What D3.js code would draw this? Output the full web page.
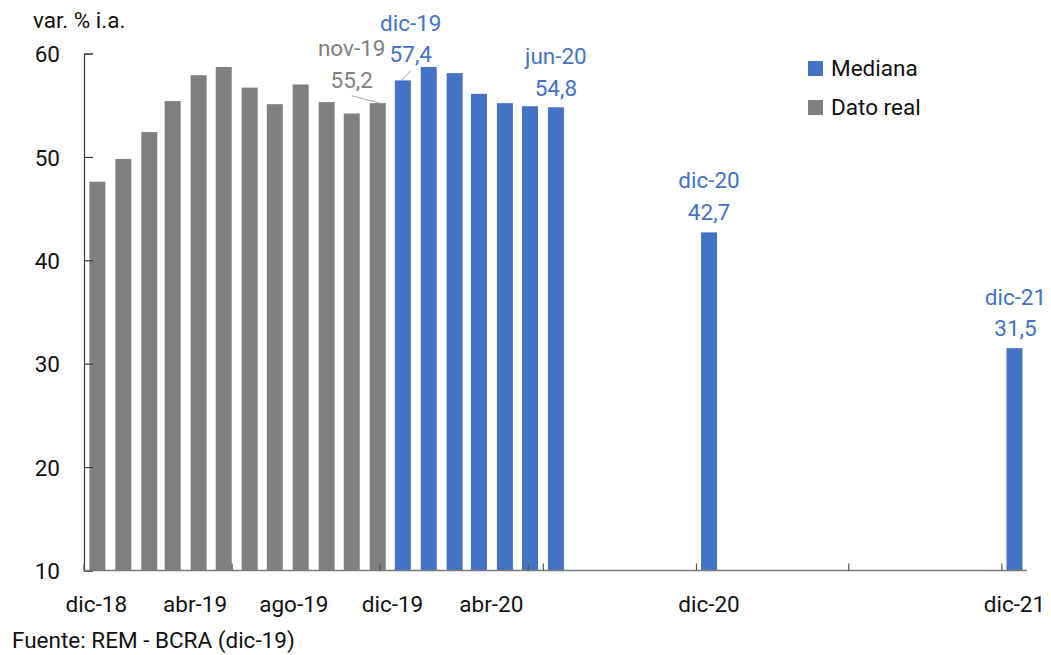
<!DOCTYPE html>
<html lang="es">
<head>
<meta charset="utf-8">
<script src="https://cdn.jsdelivr.net/npm/d3@7"></script>
<style>
  html, body { margin: 0; padding: 0; background: #fff; }
  svg { display: block; font-family: Roboto, "Noto Sans", sans-serif; }
</style>
</head>
<body>
<svg id="chart" width="1051" height="655"></svg>
<script>
// Inflación observada (dato real) y mediana de expectativas del REM, var. % i.a.
const realMonths  = ["2018-12","2019-01","2019-02","2019-03","2019-04","2019-05",
                     "2019-06","2019-07","2019-08","2019-09","2019-10","2019-11"];
const realValues  = [47.6, 49.8, 52.4, 55.4, 57.9, 58.7, 56.7, 55.1, 57.0, 55.3, 54.2, 55.2];

const medianMonths = ["2019-12","2020-01","2020-02","2020-03","2020-04","2020-05",
                      "2020-06","2020-12","2021-12"];
const medianValues = [57.4, 58.7, 58.1, 56.1, 55.2, 54.9, 54.8, 42.7, 31.5];

// Eje de categorías mensuales (dic-18 a jun-20)
const categoryLabels = ["dic-18","ene-19","feb-19","mar-19","abr-19","may-19","jun-19",
                        "jul-19","ago-19","sep-19","oct-19","nov-19","dic-19","ene-20",
                        "feb-20","mar-20","abr-20","may-20","jun-20"];
const shownCategoryLabels = ["dic-18","abr-19","ago-19","dic-19","abr-20"];
// Eje de fechas para el horizonte de expectativas
const dateLabels = [{ month: "2020-12", text: "dic-20" }, { month: "2021-12", text: "dic-21" }];
const dateTickMonths = ["2020-06","2020-12","2021-06","2021-12"];

const yTicks = [10, 20, 30, 40, 50, 60];

const seriesNames = ["Mediana", "Dato real"];
const colors = { "Mediana": "#4472C4", "Dato real": "#808080" };

// Etiquetas de valor sobre barras destacadas
const callouts = [
  { month: "2019-11", name: "nov-19", value: 55.2, series: "Dato real", dx: -26, leader: true, nameDy: -47.5, valueDy: -15.5 },
  { month: "2019-12", name: "dic-19", value: 57.4, series: "Mediana",   dx: 8,   leader: true, nameDy: -49, valueDy: -18 },
  { month: "2020-06", name: "jun-20", value: 54.8, series: "Mediana",   dx: 0,   leader: false, nameDy: -43, valueDy: -11 },
  { month: "2020-12", name: "dic-20", value: 42.7, series: "Mediana",   dx: 0,   leader: false, nameDy: -44, valueDy: -12 },
  { month: "2021-12", name: "dic-21", value: 31.5, series: "Mediana",   dx: 1,   leader: false, nameDy: -43, valueDy: -12 }
];

const parseMonth = d3.timeParse("%Y-%m");
const svg = d3.select("#chart");

const plotLeft = 84, plotRight = 1027, plotTop = 53.5, plotBottom = 570.5;
const fontSize = 22.5;

// Escala temporal de las barras: medio mes antes de dic-18 hasta medio mes después de dic-21
const x = d3.scaleTime()
  .domain([d3.timeDay.offset(parseMonth("2018-12"), -16), d3.timeDay.offset(parseMonth("2021-12"), 15)])
  .range([plotLeft, plotRight]);

const xCat = d3.scaleBand().domain(categoryLabels).range([plotLeft, 553]);

const y = d3.scaleLinear().domain([10, 60]).range([plotBottom, plotTop]);

const barW = 16;

// Barras
const realData = realMonths.map((m, i) => ({ date: parseMonth(m), value: realValues[i] }));
const medianData = medianMonths.map((m, i) => ({ date: parseMonth(m), value: medianValues[i] }));

svg.append("g").selectAll("rect").data(realData).join("rect")
  .attr("x", d => x(d.date) - barW / 2)
  .attr("y", d => y(d.value))
  .attr("width", barW)
  .attr("height", d => y(10) - y(d.value))
  .attr("fill", colors["Dato real"]);

svg.append("g").selectAll("rect").data(medianData).join("rect")
  .attr("x", d => x(d.date) - barW / 2)
  .attr("y", d => y(d.value))
  .attr("width", barW)
  .attr("height", d => y(10) - y(d.value))
  .attr("fill", colors["Mediana"]);

// Eje Y
const yAxis = svg.append("g").attr("transform", `translate(${plotLeft},0)`)
  .call(d3.axisLeft(y).tickValues(yTicks).tickSize(-9).tickPadding(24).tickFormat(d3.format("d")));
yAxis.select(".domain").attr("stroke", "#3a3a3a").attr("stroke-width", 1.2);
yAxis.selectAll(".tick line").attr("stroke", "#3a3a3a").attr("stroke-width", 1.2);
yAxis.selectAll(".tick text").attr("font-size", fontSize).attr("fill", "#111")
  .attr("font-family", "Roboto").attr("dy", "0.36em");

// Eje X: línea base
svg.append("line")
  .attr("x1", plotLeft).attr("x2", plotRight).attr("y1", plotBottom).attr("y2", plotBottom)
  .attr("stroke", "#7a7a7a").attr("stroke-width", 1.5);

// Marcas del eje de categorías (cada 6 meses, en el límite entre categorías)
const catTickX = [0, 6, 12, 18].map(i => xCat(categoryLabels[i]));
// Marcas del eje de fechas (límite de medio mes)
const dateTickX = dateTickMonths.map(m => x(d3.timeDay.offset(parseMonth(m), -15)));
svg.append("g").selectAll("line").data(catTickX.concat(dateTickX)).join("line")
  .attr("x1", d => d).attr("x2", d => d)
  .attr("y1", plotBottom).attr("y2", plotBottom - 7)
  .attr("stroke", "#555").attr("stroke-width", 1.2);

// Etiquetas del eje X
const labelY = 612;
svg.append("g").selectAll("text").data(shownCategoryLabels).join("text")
  .attr("x", d => xCat(d) + xCat.bandwidth() / 2)
  .attr("y", labelY)
  .attr("text-anchor", "middle")
  .attr("font-size", fontSize).attr("fill", "#111")
  .text(d => d);
svg.append("g").selectAll("text").data(dateLabels).join("text")
  .attr("x", d => x(parseMonth(d.month)))
  .attr("y", labelY)
  .attr("text-anchor", "middle")
  .attr("font-size", fontSize).attr("fill", "#111")
  .text(d => d.text);

// Título del eje Y y fuente
svg.append("text").attr("x", 33).attr("y", 28)
  .attr("font-size", fontSize).attr("fill", "#111").text("var. % i.a.");
svg.append("text").attr("x", 12).attr("y", 648)
  .attr("font-size", fontSize).attr("fill", "#111").text("Fuente: REM - BCRA (dic-19)");

// Leyenda
const legend = svg.append("g").attr("transform", "translate(808,61)");
seriesNames.forEach((name, i) => {
  const g = legend.append("g").attr("transform", `translate(0,${i * 39})`);
  g.append("rect").attr("width", 15).attr("height", 15).attr("fill", colors[name]);
  g.append("text").attr("x", 23).attr("y", 15)
    .attr("font-size", fontSize).attr("fill", "#111").text(name);
});

// Etiquetas destacadas
const fmt = v => d3.format(".1f")(v).replace(".", ",");
const callG = svg.append("g");
callouts.forEach(c => {
  const cx = x(parseMonth(c.month));
  const barTop = y(c.value);
  const tx = cx + c.dx;
  const col = c.series === "Mediana" ? colors["Mediana"] : "#7f7f7f";
  callG.append("text").attr("x", tx).attr("y", barTop + c.nameDy)
    .attr("text-anchor", "middle").attr("font-size", fontSize).attr("fill", col).text(c.name);
  callG.append("text").attr("x", tx).attr("y", barTop + c.valueDy)
    .attr("text-anchor", "middle").attr("font-size", fontSize).attr("fill", col).text(fmt(c.value));
  if (c.leader) {
    const sx = tx;
    const sy = barTop + c.valueDy + 8;
    const ex = c.dx < 0 ? cx + 2 : cx - 1;
    callG.append("line").attr("x1", sx).attr("y1", sy).attr("x2", ex).attr("y2", barTop)
      .attr("stroke", "#a6a6a6").attr("stroke-width", 1);
  }
});
</script>
</body>
</html>
